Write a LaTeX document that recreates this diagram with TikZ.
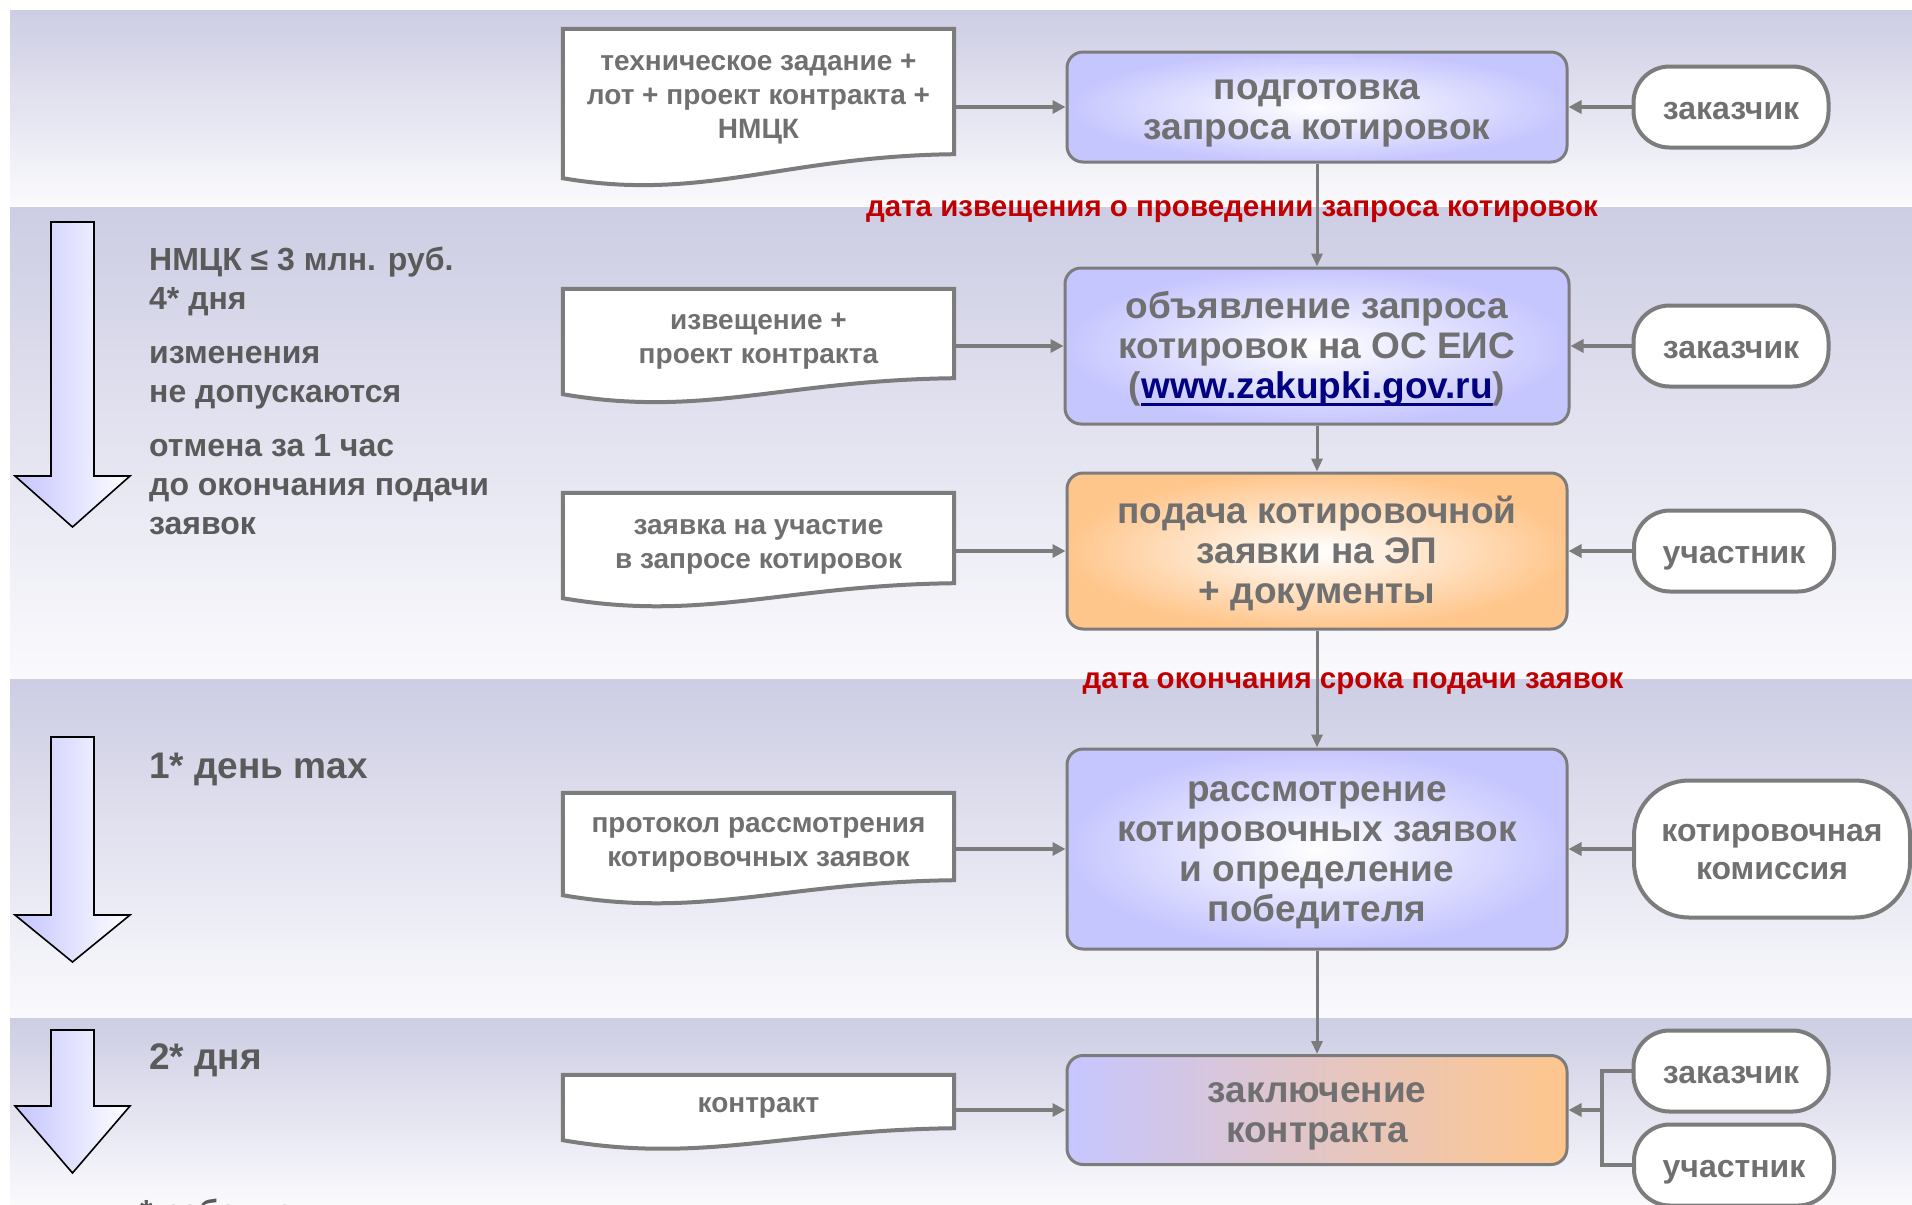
\documentclass[tikz,border=0pt]{standalone}
\usepackage{fontspec}
\setmainfont{Liberation Sans}
\usetikzlibrary{calc,arrows.meta,positioning}

\definecolor{bandtop}{HTML}{CDCDE4}
\definecolor{bandbot}{HTML}{FAFAFD}
\definecolor{arrowblue}{HTML}{C4C4FF}
\definecolor{boxblue}{HTML}{C6C6FF}
\definecolor{boxorange}{HTML}{FFC68C}
\definecolor{boxline}{HTML}{7C7C7C}
\definecolor{txtgrey}{HTML}{707070}
\definecolor{notegrey}{HTML}{5A5A5A}
\definecolor{datered}{HTML}{C00000}
\definecolor{urlblue}{HTML}{000080}

\newcommand\boxfont{\fontsize{37}{40}\selectfont\bfseries}
\newcommand\docfont{\fontsize{28}{34}\selectfont\bfseries}
\newcommand\actfont{\fontsize{32}{38}\selectfont\bfseries}
\newcommand\notefont{\fontsize{32}{39}\selectfont\bfseries}
\newcommand\ulink[1]{\setbox0\hbox{#1}\leavevmode\rlap{\color{urlblue}\vrule height -4pt depth 7pt width \wd0}\box0}
\newcommand\topline[1]{\rule{0pt}{#1}}

\pgfdeclarelayer{back}
\pgfsetlayers{back,main}

% wavy bottom of a document: node, drop of the left corner
\def\docframe#1#2{%
  \begin{pgfonlayer}{back}
    \draw[docline] (#1.north west) -- (#1.north east) -- (#1.south east)
      .. controls +(-170,2) and +(140,24) .. ($(#1.south west)+(0,#2)$) -- cycle;
  \end{pgfonlayer}}
% block arrow on the left: top, wings, tip
\def\timearrow#1#2#3{%
  \draw[left color=arrowblue, right color=white, draw=black, line width=1.6pt, line join=miter]
    (51,#1) -- (94,#1) -- (94,#2) -- (130,#2) -- (72.5,#3) -- (15,#2) -- (51,#2) -- cycle;}

\begin{document}
\begin{tikzpicture}[x=1pt, y=-1pt,
  struts/.style={execute at begin node={\rule{0pt}{#1}}, execute at end node=\strut},
  stepbox/.style={draw=boxline, line width=3pt, rounded corners=16pt, minimum width=500pt, struts=43pt,
    align=center, text=txtgrey, font=\boxfont, inner color=white, outer color=boxblue},
  docbox/.style={minimum width=391pt, inner sep=0pt, align=center, text=txtgrey, font=\docfont, struts=44pt},
  docline/.style={draw=boxline, line width=4pt, fill=white, line join=miter},
  actor/.style={draw=boxline, line width=4pt, fill=white, rounded corners=36pt, struts=37pt,
    minimum width=195pt, minimum height=81pt, align=center, text=txtgrey, font=\actfont},
  flow/.style={draw=boxline, line width=4pt, -{Triangle[length=13pt,width=13pt]}},
  vflow/.style={draw=boxline, line width=3pt, -{Triangle[length=13pt,width=11pt]}},
  link/.style={draw=boxline, line width=4pt},
  note/.style={inner sep=0pt, align=left, text=notegrey, font=\notefont, struts=39pt},
  datelabel/.style={inner sep=0pt, text=datered, font=\fontsize{29.5}{34}\selectfont\bfseries, struts=30pt}]

\useasboundingbox (0,0) rectangle (1912,1205);
\clip (0,0) rectangle (1912,1205);

%%% bands
\begin{pgfonlayer}{back}
\shade[top color=bandtop, bottom color=bandbot] (10,10) rectangle (1912,205);
\shade[top color=bandtop, bottom color=bandbot] (10,207) rectangle (1912,679);
\shade[top color=bandtop, bottom color=bandbot] (10,679) rectangle (1912,1018);
\shade[top color=bandtop, bottom color=bandbot] (10,1018) rectangle (1912,1205);
\end{pgfonlayer}

%%% time axis
\timearrow{222}{476}{527}
\timearrow{737}{915}{962}
\timearrow{1030}{1106}{1173}

\node[note, anchor=west] (limit) at (149,279) {\topline{34pt}НМЦК ≤ 3 млн. руб.\\4* дня};
\node[note, anchor=west] (nochange) at (149,372) {\topline{34pt}изменения\\не допускаются};
\node[note, anchor=west] (cancel) at (149,484) {\topline{34pt}отмена за 1 час\\до окончания подачи\\заявок};
\node[note, anchor=west, font=\fontsize{37}{40}\selectfont\bfseries, struts=38pt] (oneday) at (149,765) {1* день max};
\node[note, anchor=west, font=\fontsize{37}{40}\selectfont\bfseries, struts=38pt] (twodays) at (149,1056) {2* дня};
\node[note, anchor=west] (workdays) at (140,1209) {* рабочие дни};

%%% steps
\node[stepbox, minimum height=110pt] (prep) at (1317,107) {\topline{37pt}подготовка\\запроса котировок};
\node[stepbox, minimum height=156pt, minimum width=504pt] (notice) at (1317,346)
  {\topline{37pt}объявление запроса\\котировок на ОС ЕИС\\(\ulink{\textcolor{urlblue}{www.zakupki.gov.ru}})};
\node[stepbox, minimum height=156pt, outer color=boxorange] (submit) at (1317,551)
  {\topline{37pt}подача котировочной\\заявки на ЭП\\+ документы};
\node[stepbox, minimum height=200pt] (review) at (1317,849)
  {\topline{37pt}рассмотрение\\котировочных заявок\\и определение\\победителя};
\node[stepbox, minimum height=109pt, left color=boxblue, middle color=boxblue!50!boxorange,
  right color=boxorange] (sign) at (1317,1110) {\topline{37pt}заключение\\контракта};

%%% documents
\node[docbox, minimum height=125pt] (spec) at (758.5,91.5) {\topline{37pt}техническое задание +\\лот + проект контракта +\\НМЦК};
\docframe{spec}{24}
\node[docbox, minimum height=89pt] (notdoc) at (758.5,333.5) {\topline{37pt}извещение +\\проект контракта};
\docframe{notdoc}{16}
\node[docbox, minimum height=90pt] (bid) at (758.5,538) {\topline{37pt}заявка на участие\\в запросе котировок};
\docframe{bid}{15}
\node[docbox, minimum height=87pt] (protocol) at (758.5,836.5) {\topline{37pt}протокол рассмотрения\\котировочных заявок};
\docframe{protocol}{15}
\node[docbox, minimum height=53pt, align=none, text height=30pt, text depth=8.4pt] (contract)
  at (758.5,1101.5) {контракт};
\docframe{contract}{12}

%%% participants
\node[actor] (cust1) at (1731,107) {заказчик};
\node[actor] (cust2) at (1731,346) {заказчик};
\node[actor, minimum width=200pt] (part1) at (1734,551) {участник};
\node[actor, minimum width=276pt, minimum height=137pt, rounded corners=55pt] (comm)
  at (1772,849) {\topline{34pt}котировочная\\комиссия};
\node[actor] (cust3) at (1731,1071) {заказчик};
\node[actor, minimum width=200pt] (part2) at (1734,1165) {участник};

%%% dates
\node[datelabel] (dnotice) at (1232,207) {дата извещения о проведении запроса котировок};
\node[datelabel] (dclose) at (1353,679) {дата окончания срока подачи заявок};

%%% connections
\draw[flow] (spec.east |- prep) -- (prep);
\draw[flow] (notdoc.east |- notice) -- (notice);
\draw[flow] (bid.east |- submit) -- (submit);
\draw[flow] (protocol.east |- review) -- (review);
\draw[flow] (contract.east |- sign) -- (sign);

\draw[flow] (cust1) -- (prep);
\draw[flow] (cust2) -- (notice);
\draw[flow] (part1) -- (submit);
\draw[flow] (comm) -- (review);
\coordinate (fork) at ($(sign.east)+(33,0)$);
\draw[link] (cust3.west) -- (cust3.west -| fork) -- (part2.west -| fork) -- (part2.west);
\draw[flow] (fork) -- (sign);

\draw[vflow] (prep) -- (notice);
\draw[vflow] (notice) -- (submit);
\draw[vflow] (submit) -- (review);
\draw[vflow] (review) -- (sign);

\end{tikzpicture}
\end{document}
